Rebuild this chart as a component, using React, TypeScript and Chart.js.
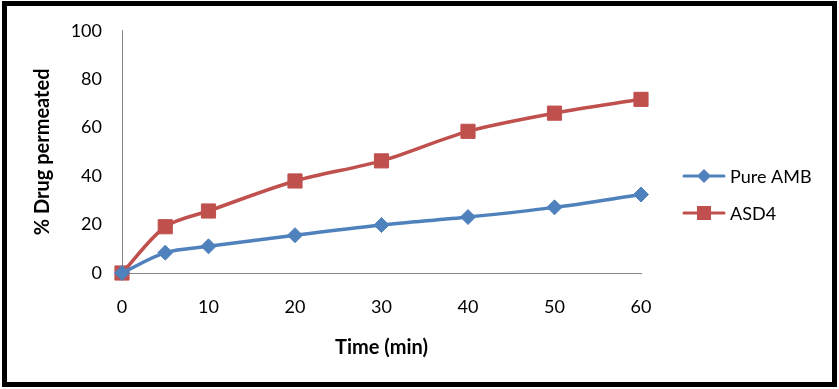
import React, { useEffect, useRef } from "react";
import { Chart, registerables } from "chart.js";

Chart.register(...registerables);

const timeMin = [0, 5, 10, 20, 30, 40, 50, 60];
const pureAMB = [0, 8.4, 11, 15.6, 19.8, 23.1, 27.1, 32.4];
const asd4 = [0, 19.1, 25.6, 38, 46.3, 58.5, 66, 71.7];
const seriesLabels = ["Pure AMB", "ASD4"];
const xTitle = "Time (min)";
const yTitle = "% Drug permeated";

const BLUE = "#4F81BD";
const RED = "#C0504D";
const FONT = "Lato, 'Open Sans', sans-serif";

const legendPlugin = {
  id: "sideLegend",
  afterDraw(chart: any) {
    const ctx = chart.ctx;
    const rows = [176, 213];
    chart.data.datasets.forEach((ds: any, i: number) => {
      const y = rows[i];
      ctx.save();
      ctx.strokeStyle = ds.borderColor;
      ctx.lineWidth = 3;
      ctx.lineCap = "round";
      ctx.beginPath();
      ctx.moveTo(684, y);
      ctx.lineTo(724, y);
      ctx.stroke();
      ctx.fillStyle = ds.pointBackgroundColor;
      ctx.beginPath();
      if (ds.pointStyle === "rect") {
        ctx.rect(704 - 7, y - 7, 14, 14);
      } else {
        ctx.moveTo(704 - 7, y);
        ctx.lineTo(704, y - 7);
        ctx.lineTo(704 + 7, y);
        ctx.lineTo(704, y + 7);
        ctx.closePath();
      }
      ctx.fill();
      ctx.fillStyle = "#000";
      ctx.font = `18px ${FONT}`;
      ctx.textAlign = "left";
      ctx.textBaseline = "middle";
      ctx.fillText(ds.label, 730, y + 1);
      ctx.restore();
    });
  },
};

export default function App() {
  const ref = useRef<HTMLCanvasElement | null>(null);
  useEffect(() => {
    if (!ref.current) return;
    const chart = new Chart(ref.current, {
      type: "line",
      data: {
        datasets: [
          {
            label: seriesLabels[0],
            data: timeMin.map((t, i) => ({ x: t, y: pureAMB[i] })),
            borderColor: BLUE,
            backgroundColor: BLUE,
            pointBackgroundColor: BLUE,
            pointBorderColor: BLUE,
            borderWidth: 3.5,
            pointStyle: "rectRot",
            pointRadius: 7.5,
            pointBorderWidth: 1,
            tension: 0.3,
            clip: false as any,
          },
          {
            label: seriesLabels[1],
            data: timeMin.map((t, i) => ({ x: t, y: asd4[i] })),
            borderColor: RED,
            backgroundColor: RED,
            pointBackgroundColor: RED,
            pointBorderColor: RED,
            borderWidth: 3.5,
            pointStyle: "rect",
            pointRadius: 10,
            pointBorderWidth: 1,
            tension: 0.3,
            clip: false as any,
          },
        ],
      },
      options: {
        responsive: false,
        animation: false,
        devicePixelRatio: 1,
        layout: { padding: { left: 0, top: 27, right: 198, bottom: 0 } },
        plugins: {
          legend: { display: false },
          tooltip: { enabled: false },
        },
        scales: {
          x: {
            type: "linear",
            min: 0,
            max: 60,
            ticks: {
              stepSize: 10,
              padding: 23,
              color: "#000",
              font: { family: FONT, size: 18 },
            },
            grid: { display: false, drawTicks: false },
            border: { display: true, color: "#868686", width: 1 },
            title: {
              display: true,
              text: xTitle,
              color: "#000",
              font: { family: FONT, size: 20, weight: "bold" },
              padding: { top: 0, bottom: 29 },
            },
            afterFit: (s: any) => {
              s.height = 116;
            },
          },
          y: {
            min: 0,
            max: 100,
            ticks: {
              stepSize: 20,
              padding: 20,
              color: "#000",
              font: { family: FONT, size: 18 },
            },
            grid: { display: false, drawTicks: false },
            border: { display: true, color: "#868686", width: 1 },
            title: {
              display: true,
              text: yTitle,
              color: "#000",
              font: { family: FONT, size: 20, weight: "bold" },
              padding: { top: 31, bottom: 0 },
            },
            afterFit: (s: any) => {
              s.width = 122;
            },
          },
        },
      },
      plugins: [legendPlugin],
    });
    return () => chart.destroy();
  }, []);

  return (
    <div style={{ position: "absolute", left: 0, top: 0, width: 839, height: 389, background: "#fff" }}>
      <div
        style={{
          position: "absolute",
          left: 2,
          top: 1,
          width: 835,
          height: 386,
          boxSizing: "border-box",
          border: "5px solid #000",
        }}
      />
      <canvas ref={ref} width={839} height={389} style={{ position: "absolute", left: 0, top: 0 }} />
    </div>
  );
}
